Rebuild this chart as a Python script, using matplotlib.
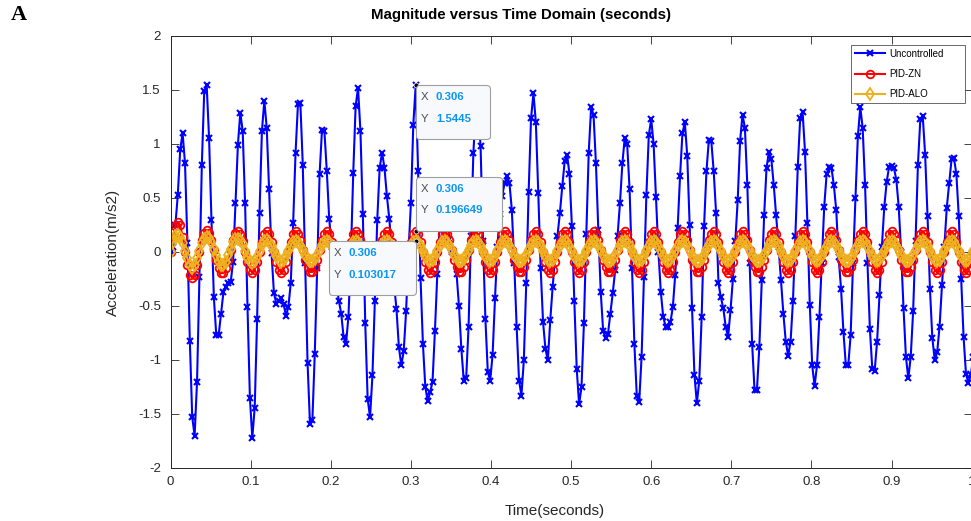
import numpy as np
import matplotlib
matplotlib.use("Agg")
import matplotlib.pyplot as plt
from matplotlib.offsetbox import TextArea, HPacker, VPacker, AnnotationBbox, DrawingArea

plt.rcParams["font.family"] = ["Liberation Sans", "DejaVu Sans"]

# sample step of the simulation output (s)
dt = 0.003

# acceleration, one value per sample
uncontrolled = [
    0.00, 0.05, 0.25, 0.53, 0.95, 1.10, 0.82, 0.08, -0.82, -1.53,
    -1.70, -1.20, -0.23, 0.81, 1.49, 1.55, 1.06, 0.30, -0.42, -0.77,
    -0.77, -0.57, -0.37, -0.32, -0.29, -0.28, -0.09, 0.45, 0.99, 1.29,
    1.12, 0.45, -0.51, -1.35, -1.72, -1.44, -0.62, 0.36, 1.12, 1.40,
    1.15, 0.58, -0.01, -0.38, -0.48, -0.45, -0.43, -0.48, -0.59, -0.51,
    -0.29, 0.27, 0.92, 1.37, 1.38, 0.81, -0.10, -1.03, -1.59, -1.56,
    -0.94, -0.15, 0.72, 1.13, 1.12, 0.75, 0.31, 0.05, -0.15, -0.30,
    -0.45, -0.57, -0.79, -0.85, -0.60, -0.05, 0.73, 1.35, 1.52, 1.12,
    0.35, -0.66, -1.36, -1.53, -1.14, -0.45, 0.30, 0.78, 0.92, 0.78,
    0.52, 0.31, 0.02, -0.30, -0.53, -0.88, -1.05, -0.92, -0.55, 0.00,
    0.45, 1.18, 1.5445, 0.75, -0.24, -0.85, -1.25, -1.38, -1.30, -1.20, -0.73,
    -0.20, 0.25, 0.50, 0.55, 0.35, 0.12, 0.00, -0.05, -0.20, -0.50,
    -0.90, -1.19, -1.17, -0.69, 0.15, 0.92, 1.32, 1.30, 0.98, 0.10,
    -0.62, -1.11, -1.19, -0.95, -0.43, 0.05, 0.35, 0.52, 0.64, 0.70,
    0.64, 0.39, -0.10, -0.69, -1.19, -1.33, -1.00, -0.29, 0.56, 1.24,
    1.47, 1.20, 0.55, -0.15, -0.65, -0.90, -1.00, -0.63, -0.32, -0.05,
    0.15, 0.36, 0.61, 0.84, 0.90, 0.72, 0.24, -0.45, -1.08, -1.41,
    -1.25, -0.66, 0.17, 0.92, 1.34, 1.27, 0.82, 0.20, -0.37, -0.73,
    -0.80, -0.76, -0.57, -0.38, -0.17, 0.15, 0.45, 0.82, 1.06, 1.00,
    0.58, -0.15, -0.85, -1.33, -1.39, -0.97, -0.23, 0.53, 1.08, 1.23,
    1.00, 0.51, 0.00, -0.37, -0.60, -0.69, -0.69, -0.65, -0.51, -0.21,
    0.22, 0.70, 1.10, 1.20, 0.89, 0.25, -0.52, -1.14, -1.40, -1.19,
    -0.60, 0.24, 0.75, 1.04, 1.03, 0.75, 0.36, -0.29, -0.42, -0.52,
    -0.69, -0.79, -0.54, -0.25, 0.10, 0.48, 1.03, 1.27, 1.15, 0.62,
    -0.10, -0.85, -1.28, -1.28, -0.88, -0.26, 0.34, 0.78, 0.93, 0.86,
    0.62, 0.34, 0.05, -0.26, -0.57, -0.83, -0.96, -0.83, -0.45, 0.15,
    0.79, 1.24, 1.30, 0.93, 0.27, -0.49, -1.05, -1.24, -1.05, -0.60,
    -0.10, 0.42, 0.72, 0.79, 0.78, 0.62, 0.39, -0.05, -0.34, -0.74,
    -1.05, -1.05, -0.77, -0.10, 0.50, 1.07, 1.34, 1.15, 0.62, -0.10,
    -0.71, -1.08, -1.10, -0.83, -0.40, 0.05, 0.42, 0.65, 0.79, 0.80, 0.78,
    0.67, 0.42, 0.00, -0.52, -0.97, -1.17, -0.97, -0.55, 0.10, 0.81,
    1.23, 1.26, 0.90, 0.33, -0.34, -0.80, -1.00, -0.93, -0.69, -0.31,
    0.05, 0.41, 0.64, 0.86, 0.87, 0.72, 0.33, -0.25, -0.79, -1.13,
    -1.21, -1.14, -0.97, -0.60,
]

pid_zn = [
    0.00, 0.14, 0.24,
    0.28, 0.25, 0.14, 0.00, -0.12, -0.21, -0.24, -0.21, -0.12, 0.00, 0.11, 0.18,
    0.20, 0.18, 0.115, 0.02, -0.075, -0.15, -0.195, -0.195, -0.15, -0.075, 0.02, 0.115, 0.18,
    0.195, 0.17, 0.10, 0.00, -0.095, -0.165, -0.19, -0.165, -0.095, 0.00, 0.095, 0.165,
    0.19, 0.165, 0.095, 0.00, -0.095, -0.165, -0.19, -0.165, -0.095, 0.00, 0.095, 0.165,
    0.19, 0.17, 0.11, 0.02, -0.07, -0.14, -0.185, -0.185, -0.14, -0.07, 0.02, 0.11, 0.17,
    0.19, 0.165, 0.095, 0.00, -0.095, -0.165, -0.19, -0.165, -0.095, 0.00, 0.095, 0.165,
    0.19, 0.17, 0.11, 0.02, -0.07, -0.14, -0.185, -0.185, -0.14, -0.07, 0.02, 0.11, 0.17,
    0.19, 0.165, 0.095, 0.00, -0.095, -0.165, -0.19, -0.165, -0.095, 0.00, 0.095, 0.165,
    0.196649, 0.165, 0.095, 0.00, -0.095, -0.165, -0.19, -0.165, -0.095, 0.00, 0.095, 0.165,
    0.19, 0.17, 0.11, 0.02, -0.07, -0.14, -0.185, -0.185, -0.14, -0.07, 0.02, 0.11, 0.17,
    0.19, 0.165, 0.095, 0.00, -0.095, -0.165, -0.19, -0.165, -0.095, 0.00, 0.095, 0.165,
    0.19, 0.17, 0.11, 0.02, -0.07, -0.14, -0.185, -0.185, -0.14, -0.07, 0.02, 0.11, 0.17,
    0.19, 0.165, 0.095, 0.00, -0.095, -0.165, -0.19, -0.165, -0.095, 0.00, 0.095, 0.165,
    0.19, 0.165, 0.095, 0.00, -0.095, -0.165, -0.19, -0.165, -0.095, 0.00, 0.095, 0.165,
    0.19, 0.17, 0.11, 0.02, -0.07, -0.14, -0.185, -0.185, -0.14, -0.07, 0.02, 0.11, 0.17,
    0.19, 0.165, 0.095, 0.00, -0.095, -0.165, -0.19, -0.165, -0.095, 0.00, 0.095, 0.165,
    0.19, 0.165, 0.095, 0.00, -0.095, -0.165, -0.19, -0.165, -0.095, 0.00, 0.095, 0.165,
    0.19, 0.17, 0.11, 0.02, -0.07, -0.14, -0.185, -0.185, -0.14, -0.07, 0.02, 0.11, 0.17,
    0.19, 0.165, 0.095, 0.00, -0.095, -0.165, -0.19, -0.165, -0.095, 0.00, 0.095, 0.165,
    0.19, 0.17, 0.11, 0.02, -0.07, -0.14, -0.185, -0.185, -0.14, -0.07, 0.02, 0.11, 0.17,
    0.19, 0.165, 0.095, 0.00, -0.095, -0.165, -0.19, -0.165, -0.095, 0.00, 0.095, 0.165,
    0.19, 0.165, 0.095, 0.00, -0.095, -0.165, -0.19, -0.165, -0.095, 0.00, 0.095, 0.165,
    0.19, 0.17, 0.11, 0.02, -0.07, -0.14, -0.185, -0.185, -0.14, -0.07, 0.02, 0.11, 0.17,
    0.19, 0.165, 0.095, 0.00, -0.095, -0.165, -0.19, -0.165, -0.095, 0.00, 0.095, 0.165,
    0.19, 0.17, 0.11, 0.02, -0.07, -0.14, -0.185, -0.185, -0.14, -0.07, 0.02, 0.11, 0.17,
    0.19, 0.165, 0.095, 0.00, -0.095, -0.165, -0.19, -0.165, -0.095, 0.00, 0.095, 0.165,
    0.19, 0.165, 0.095, 0.00, -0.095, -0.165, -0.19, -0.165, -0.095, 0.00, 0.095,
]

pid_alo = [
    0.00, 0.09, 0.15,
    0.16, 0.14, 0.08, 0.01, -0.06, -0.12, -0.15, -0.12, -0.06, 0.01, 0.08, 0.12,
    0.14, 0.13, 0.09, 0.03, -0.03, -0.09, -0.12, -0.12, -0.09, -0.03, 0.03, 0.09, 0.12,
    0.125, 0.11, 0.07, 0.01, -0.05, -0.085, -0.10, -0.085, -0.05, 0.01, 0.065, 0.10,
    0.11, 0.095, 0.06, 0.01, -0.04, -0.075, -0.09, -0.075, -0.04, 0.01, 0.06, 0.095,
    0.105, 0.094, 0.064, 0.02, -0.026, -0.063, -0.083, -0.083, -0.063, -0.026, 0.02, 0.064, 0.094,
    0.105, 0.092, 0.058, 0.01, -0.038, -0.072, -0.085, -0.072, -0.038, 0.01, 0.058, 0.092,
    0.105, 0.094, 0.064, 0.02, -0.026, -0.063, -0.083, -0.083, -0.063, -0.026, 0.02, 0.064, 0.094,
    0.105, 0.092, 0.058, 0.01, -0.038, -0.072, -0.085, -0.072, -0.038, 0.01, 0.058, 0.092,
    0.103017, 0.092, 0.058, 0.01, -0.038, -0.072, -0.085, -0.072, -0.038, 0.01, 0.058, 0.092,
    0.105, 0.094, 0.064, 0.02, -0.026, -0.063, -0.083, -0.083, -0.063, -0.026, 0.02, 0.064, 0.094,
    0.105, 0.092, 0.058, 0.01, -0.038, -0.072, -0.085, -0.072, -0.038, 0.01, 0.058, 0.092,
    0.105, 0.094, 0.064, 0.02, -0.026, -0.063, -0.083, -0.083, -0.063, -0.026, 0.02, 0.064, 0.094,
    0.105, 0.092, 0.058, 0.01, -0.038, -0.072, -0.085, -0.072, -0.038, 0.01, 0.058, 0.092,
    0.105, 0.092, 0.058, 0.01, -0.038, -0.072, -0.085, -0.072, -0.038, 0.01, 0.058, 0.092,
    0.105, 0.094, 0.064, 0.02, -0.026, -0.063, -0.083, -0.083, -0.063, -0.026, 0.02, 0.064, 0.094,
    0.105, 0.092, 0.058, 0.01, -0.038, -0.072, -0.085, -0.072, -0.038, 0.01, 0.058, 0.092,
    0.105, 0.092, 0.058, 0.01, -0.038, -0.072, -0.085, -0.072, -0.038, 0.01, 0.058, 0.092,
    0.105, 0.094, 0.064, 0.02, -0.026, -0.063, -0.083, -0.083, -0.063, -0.026, 0.02, 0.064, 0.094,
    0.105, 0.092, 0.058, 0.01, -0.038, -0.072, -0.085, -0.072, -0.038, 0.01, 0.058, 0.092,
    0.105, 0.094, 0.064, 0.02, -0.026, -0.063, -0.083, -0.083, -0.063, -0.026, 0.02, 0.064, 0.094,
    0.105, 0.092, 0.058, 0.01, -0.038, -0.072, -0.085, -0.072, -0.038, 0.01, 0.058, 0.092,
    0.105, 0.092, 0.058, 0.01, -0.038, -0.072, -0.085, -0.072, -0.038, 0.01, 0.058, 0.092,
    0.105, 0.094, 0.064, 0.02, -0.026, -0.063, -0.083, -0.083, -0.063, -0.026, 0.02, 0.064, 0.094,
    0.105, 0.092, 0.058, 0.01, -0.038, -0.072, -0.085, -0.072, -0.038, 0.01, 0.058, 0.092,
    0.105, 0.094, 0.064, 0.02, -0.026, -0.063, -0.083, -0.083, -0.063, -0.026, 0.02, 0.064, 0.094,
    0.105, 0.092, 0.058, 0.01, -0.038, -0.072, -0.085, -0.072, -0.038, 0.01, 0.058, 0.092,
    0.105, 0.092, 0.058, 0.01, -0.038, -0.072, -0.085, -0.072, -0.038, 0.01, 0.058,
]

series_names = ["Uncontrolled", "PID-ZN", "PID-ALO"]

xticks = [0, 0.1, 0.2, 0.3, 0.4, 0.5, 0.6, 0.7, 0.8, 0.9, 1]
xtick_labels = ["0", "0.1", "0.2", "0.3", "0.4", "0.5", "0.6", "0.7", "0.8", "0.9", "1"]
yticks = [-2, -1.5, -1, -0.5, 0, 0.5, 1, 1.5, 2]
ytick_labels = ["-2", "-1.5", "-1", "-0.5", "0", "0.5", "1", "1.5", "2"]

# data tips all sit at the same time instant
tip_x = 0.306
tip_x_text = "0.306"
tip_values = [1.5445, 0.196649, 0.103017]
tip_texts = ["1.5445", "0.196649", "0.103017"]

# ------------------------------------------------------------------------------------------

W, H = 971, 521
fig = plt.figure(figsize=(W / 100, H / 100), dpi=100)
ax = fig.add_axes([170.6 / W, (H - 468) / H, 801 / W, 432 / H])

t_unc = np.arange(len(uncontrolled)) * dt
t_zn = np.arange(len(pid_zn)) * dt
t_alo = np.arange(len(pid_alo)) * dt

ax.plot(t_unc, uncontrolled, color=(0, 0, 1), lw=1.5, marker="x", ms=4.5, mew=1.5,
        label=series_names[0])
ax.plot(t_zn, pid_zn, color=(1, 0, 0), lw=1.5, marker="o", ms=5.5, mfc="none", mew=1.3,
        label=series_names[1])
ax.plot(t_alo, pid_alo, color="#EDB120", lw=1.5, marker="d", ms=6, mfc="none", mew=1.3,
        label=series_names[2])

ax.set_xlim(0, 1)
ax.set_ylim(-2, 2)
ax.set_xticks(xticks)
ax.set_xticklabels(xtick_labels)
ax.set_yticks(yticks)
ax.set_yticklabels(ytick_labels)

dark = (0.15, 0.15, 0.15)
ax.tick_params(direction="in", length=5.8, width=0.6, top=True, right=True,
               labelsize=9.5, colors=dark)
ax.tick_params(axis="y", pad=7)
ax.tick_params(axis="x", pad=6)
for s in ax.spines.values():
    s.set_color(dark)
    s.set_linewidth(0.7)

# labels placed like the MATLAB export
fig.text(521 / W, 1 - 15 / H, "Magnitude versus Time Domain (seconds)",
         ha="center", va="center", fontsize=10.8, fontweight="bold", color="k")
fig.text(555 / W, 1 - 511 / H, "Time(seconds)", ha="center", va="center",
         fontsize=11, color=dark)
fig.text(113 / W, 1 - 252 / H, "Acceleration(m/s2)", ha="center", va="center",
         rotation=90, fontsize=11, color=dark)
fig.text(19 / W, 1 - 15 / H, "A", ha="center", va="center", fontsize=16,
         fontweight="bold", family=["Liberation Serif", "DejaVu Serif"])

leg = ax.legend(loc="upper left", bbox_to_anchor=(851 / W, 1 - 103 / H, 114 / W, 58 / H),
                bbox_transform=fig.transFigure, mode="expand", borderaxespad=0,
                fontsize=7, fancybox=False, edgecolor=dark, handlelength=3.1,
                handletextpad=0.45, labelspacing=1.05, borderpad=0.4)
leg.get_frame().set_linewidth(0.6)

# data tips
ax.plot([tip_x] * len(tip_values), tip_values, "o", color="k", ms=3.5, mec="w",
        mew=0.5, zorder=6)

aligns = [(0, 1), (0, 0), (1, 1)]
pad = 0.35
pad_pt = pad * 10
for val, txt, al in zip(tip_values, tip_texts, aligns):
    rows = []
    for lab, v in [("X", tip_x_text), ("Y", txt)]:
        a = TextArea(lab, textprops=dict(color="0.3", fontsize=8.2))
        b = TextArea(v, textprops=dict(color="#0A96F0", fontsize=8.2, fontweight="bold"))
        rows.append(HPacker(children=[a, b], sep=5.5, align="baseline", pad=0))
    col = VPacker(children=rows, sep=8.5, align="left", pad=0)
    col = VPacker(children=[DrawingArea(1, 1.5), col, DrawingArea(1, 7.5)], sep=0,
                  align="left", pad=0)
    box = HPacker(children=[col, DrawingArea(10, 1)], sep=0, align="top", pad=0)
    dx = pad_pt if al[0] == 0 else -pad_pt
    dy = -pad_pt if al[1] == 1 else pad_pt
    ab = AnnotationBbox(box, (tip_x, val), xybox=(dx, dy), boxcoords="offset points",
                        box_alignment=al, frameon=True, pad=pad,
                        bboxprops=dict(boxstyle="round,pad=%g,rounding_size=0.25" % pad,
                                       fc="#F8F9FD", ec="0.62", lw=0.8))
    ab.set_zorder(7)
    ax.add_artist(ab)

fig.savefig("out.png", dpi=100)
